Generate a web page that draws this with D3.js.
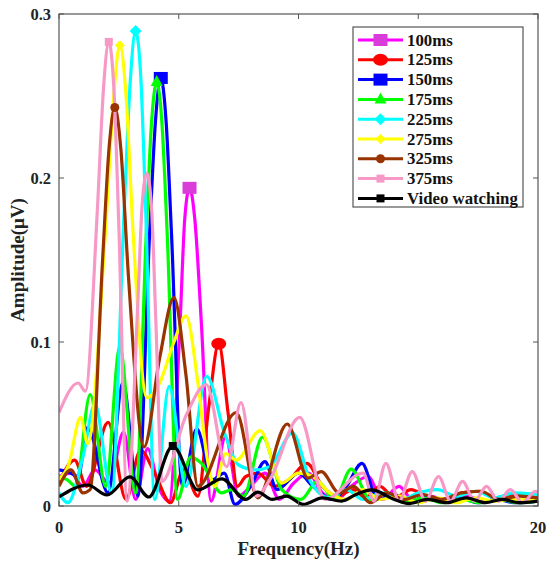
<!DOCTYPE html>
<html>
<head>
<meta charset="utf-8">
<script src="https://cdn.jsdelivr.net/npm/d3@7"></script>
<style>
  html, body { margin: 0; padding: 0; background: #fff; }
  svg { display: block; }
  text { font-family: "Liberation Serif", "Times New Roman", serif; font-weight: bold; }
</style>
</head>
<body>
<svg id="chart" width="547" height="563"></svg>
<script>
// ---------- data ----------
const seriesNames = ["100ms", "125ms", "150ms", "175ms", "225ms", "275ms", "325ms", "375ms", "Video watching"];

const f100 = [0, 0.5, 1.0, 1.5, 2.1, 2.7, 3.2, 3.7, 4.2, 4.6, 5.05, 5.25, 5.45, 5.67, 5.95, 6.35, 6.95, 7.5, 8.0, 8.6, 9.2, 9.8, 10.4, 11.0, 11.6, 12.2, 12.9, 13.5, 14.2, 14.8, 15.5, 16.2, 17.0, 17.8, 18.6, 19.3, 20];
const a100 = [0.018, 0.02, 0.012, 0.022, 0.014, 0.045, 0.004, 0.035, 0.01, 0.003, 0.11, 0.175, 0.194, 0.175, 0.11, 0.003, 0.042, 0.006, 0.012, 0.02, 0.004, 0.014, 0.02, 0.008, 0.004, 0.012, 0.018, 0.004, 0.012, 0.003, 0.006, 0.003, 0.006, 0.003, 0.005, 0.002, 0.006];

const f125 = [0, 0.65, 1.15, 2.05, 2.8, 3.4, 4.0, 4.65, 5.2, 5.8, 6.25, 6.67, 7.05, 7.45, 7.8, 8.3, 9.0, 9.6, 10.35, 11.0, 11.6, 12.3, 12.8, 13.4, 14.0, 14.7, 15.3, 16.0, 16.8, 17.5, 18.2, 19.0, 20];
const a125 = [0.014, 0.028, 0.012, 0.051, 0.004, 0.034, 0.02, 0.002, 0.022, 0.006, 0.06, 0.099, 0.058, 0.012, 0.018, 0.02, 0.012, 0.016, 0.026, 0.012, 0.006, 0.01, 0.005, 0.012, 0.005, 0.01, 0.006, 0.004, 0.008, 0.009, 0.005, 0.007, 0.004];

const f150 = [0, 0.5, 0.8, 1.2, 2.05, 2.67, 3.3, 3.78, 4.03, 4.25, 4.47, 4.7, 5.15, 5.75, 6.4, 6.9, 7.35, 8.0, 8.6, 9.1, 10.0, 10.6, 11.4, 12.0, 12.65, 13.3, 14.0, 14.6, 15.3, 16.0, 16.7, 17.5, 18.3, 19.0, 20];
const a150 = [0.022, 0.02, 0.018, 0.048, 0.008, 0.0756, 0.006, 0.165, 0.235, 0.261, 0.235, 0.165, 0.012, 0.047, 0.016, 0.02, 0.001, 0.012, 0.027, 0.01, 0.02, 0.012, 0.004, 0.012, 0.026, 0.004, 0.007, 0.002, 0.006, 0.003, 0.005, 0.002, 0.004, 0.002, 0.003];

const f175 = [0, 0.35, 0.7, 1.3, 1.95, 2.54, 3.2, 3.64, 3.86, 4.08, 4.3, 4.52, 4.95, 5.5, 5.95, 6.8, 7.2, 7.7, 8.5, 9.3, 10.1, 10.8, 11.5, 12.2, 13.0, 13.7, 14.4, 15.2, 16.0, 16.8, 17.6, 18.4, 19.2, 20];
const a175 = [0.018, 0.016, 0.012, 0.068, 0.012, 0.097, 0.008, 0.165, 0.233, 0.2585, 0.233, 0.165, 0.004, 0.03, 0.026, 0.008, 0.01, 0.006, 0.042, 0.01, 0.004, 0.015, 0.004, 0.0225, 0.004, 0.008, 0.002, 0.005, 0.002, 0.004, 0.002, 0.004, 0.002, 0.003];

const f225 = [0, 0.37, 1.0, 1.5, 2.2, 2.72, 2.98, 3.2, 3.42, 3.62, 4.0, 4.6, 5.3, 6.17, 6.9, 7.5, 8.2, 8.8, 9.75, 10.5, 11.3, 12.0, 12.7, 13.5, 14.3, 15.0, 15.8, 16.6, 17.4, 18.2, 19.0, 20];
const a225 = [0.008, 0.002, 0.03, 0.062, 0.008, 0.18, 0.26, 0.2896, 0.26, 0.18, 0.004, 0.073, 0.012, 0.079, 0.045, 0.025, 0.022, 0.024, 0.0445, 0.015, 0.005, 0.01, 0.004, 0.008, 0.004, 0.008, 0.01, 0.006, 0.009, 0.005, 0.008, 0.007];

const f275 = [0, 0.4, 0.9, 1.2, 1.95, 2.3, 2.54, 2.8, 3.1, 3.67, 4.2, 4.8, 5.3, 5.8, 6.2, 6.5, 6.95, 7.4, 8.4, 9.3, 10.0, 10.6, 11.3, 12.0, 12.7, 13.4, 14.2, 15.0, 15.8, 16.6, 17.4, 18.2, 19.0, 20];
const a275 = [0.016, 0.025, 0.054, 0.038, 0.17, 0.253, 0.281, 0.25, 0.165, 0.066, 0.075, 0.1, 0.116, 0.075, 0.028, 0.012, 0.032, 0.028, 0.046, 0.014, 0.02, 0.018, 0.008, 0.004, 0.01, 0.004, 0.006, 0.002, 0.005, 0.002, 0.005, 0.003, 0.004, 0.003];

const f325 = [0, 0.5, 1.0, 1.3, 1.82, 2.1, 2.33, 2.58, 2.9, 3.55, 4.2, 4.8, 5.3, 5.8, 7.4, 8.3, 9.53, 10.4, 10.95, 11.7, 12.3, 13.0, 13.7, 14.4, 15.2, 16.0, 16.8, 17.6, 18.4, 19.2, 20];
const a325 = [0.012, 0.022, 0.008, 0.01, 0.15, 0.22, 0.243, 0.218, 0.14, 0.036, 0.09, 0.127, 0.08, 0.012, 0.057, 0.005, 0.05, 0.017, 0.021, 0.008, 0.012, 0.002, 0.008, 0.004, 0.007, 0.004, 0.008, 0.009, 0.004, 0.006, 0.005];

const f375 = [0, 0.8, 1.1, 1.6, 1.86, 2.08, 2.3, 2.5, 2.85, 3.28, 3.47, 3.67, 3.87, 4.05, 4.3, 5.3, 6.15, 7.0, 7.6, 8.25, 8.8, 10.05, 11.1, 12.7, 13.15, 13.65, 14.2, 14.75, 15.3, 15.85, 16.35, 16.85, 17.35, 17.85, 18.35, 18.85, 19.35, 19.9, 20];
const a375 = [0.057, 0.075, 0.07, 0.18, 0.255, 0.283, 0.252, 0.17, 0.003, 0.12, 0.183, 0.203, 0.18, 0.11, 0.015, 0.055, 0.074, 0.024, 0.063, 0.006, 0.016, 0.054, 0.004, 0.02, 0.003, 0.026, 0.003, 0.021, 0.003, 0.018, 0.003, 0.015, 0.003, 0.012, 0.003, 0.01, 0.002, 0.009, 0.008];

const fVideo = [0, 1.2, 2.0, 2.96, 3.75, 4.75, 5.8, 6.8, 7.8, 8.3, 8.9, 9.5, 10.2, 11.0, 11.8, 12.4, 13.05, 14.0, 14.6, 15.4, 16.2, 17.0, 17.8, 18.5, 19.2, 20];
const aVideo = [0.0055, 0.0128, 0.0067, 0.0177, 0.0055, 0.0366, 0.0098, 0.0165, 0.004, 0.0085, 0.004, 0.006, 0.001, 0.005, 0.003, 0.007, 0.0098, 0.004, 0.0015, 0.004, 0.002, 0.005, 0.002, 0.004, 0.002, 0.003];

const xTicks = [0, 5, 10, 15, 20];
const yTicks = [0, 0.1, 0.2, 0.3];
const yTickLabels = ["0", "0.1", "0.2", "0.3"];

// ---------- styling ----------
const colors = ["#ff00ff", "#ff0000", "#0000ff", "#00ff00", "#00ffff", "#ffff00", "#993300", "#f799c6", "#000000"];
const markerFill = ["#d93cd9", "#ff0000", "#0000ff", "#00ff00", "#00ffff", "#ffff00", "#993300", "#f799c6", "#000000"];
const markerTypes = ["bigsquare", "ellipse", "bigsquare", "triangle", "diamond", "diamond-s", "circle", "square-s", "square-s"];

const freqs = [f100, f125, f150, f175, f225, f275, f325, f375, fVideo];
const amps = [a100, a125, a150, a175, a225, a275, a325, a375, aVideo];

const series = seriesNames.map((name, i) => ({
  name, color: colors[i], mfill: markerFill[i], marker: markerTypes[i],
  points: freqs[i].map((f, j) => ({ f, a: amps[i][j] }))
}));

// ---------- layout ----------
const svg = d3.select("#chart");
const L = 59, R = 538, T = 14, B = 506;
const x = d3.scaleLinear().domain([0, 20]).range([L, R]);
const y = d3.scaleLinear().domain([0, 0.3]).range([B, T]);

svg.append("defs").append("clipPath").attr("id", "clip")
  .append("rect").attr("x", L).attr("y", T - 8).attr("width", R - L).attr("height", B - T + 8);

const line = d3.line().x(d => x(d.f)).y(d => y(d.a)).curve(d3.curveMonotoneX);

const plot = svg.append("g").attr("clip-path", "url(#clip)");
series.forEach(s => {
  plot.append("path").datum(s.points)
    .attr("fill", "none").attr("stroke", s.color).attr("stroke-width", 3.2)
    .attr("stroke-linejoin", "round").attr("d", line);
});

function drawMarker(g, type, cx, cy, fill) {
  if (type === "bigsquare") {
    g.append("rect").attr("x", cx - 7).attr("y", cy - 6).attr("width", 14).attr("height", 12).attr("fill", fill);
  } else if (type === "ellipse") {
    g.append("ellipse").attr("cx", cx).attr("cy", cy).attr("rx", 7.5).attr("ry", 6).attr("fill", fill);
  } else if (type === "triangle") {
    g.append("path").attr("d", `M${cx},${cy - 7}L${cx + 6},${cy + 4}L${cx - 6},${cy + 4}Z`).attr("fill", fill);
  } else if (type === "diamond") {
    g.append("path").attr("d", `M${cx},${cy - 6}L${cx + 6},${cy}L${cx},${cy + 6}L${cx - 6},${cy}Z`).attr("fill", fill);
  } else if (type === "diamond-s") {
    g.append("path").attr("d", `M${cx},${cy - 5}L${cx + 5},${cy}L${cx},${cy + 5}L${cx - 5},${cy}Z`).attr("fill", fill);
  } else if (type === "circle") {
    g.append("circle").attr("cx", cx).attr("cy", cy).attr("r", 4.5).attr("fill", fill);
  } else if (type === "square-s") {
    g.append("rect").attr("x", cx - 4).attr("y", cy - 4).attr("width", 8).attr("height", 8).attr("fill", fill);
  }
}

// peak markers
const mg = svg.append("g");
series.forEach(s => {
  const pk = s.points.reduce((m, p) => p.a > m.a ? p : m, s.points[0]);
  drawMarker(mg, s.marker, x(pk.f), y(pk.a), s.mfill);
});

// ---------- axes / frame ----------
const axisColor = "#555";
const ax = svg.append("g");
ax.append("rect").attr("x", L).attr("y", T).attr("width", R - L).attr("height", B - T)
  .attr("fill", "none").attr("stroke", axisColor).attr("stroke-width", 1.2);

xTicks.forEach(t => {
  ax.append("line").attr("x1", x(t)).attr("x2", x(t)).attr("y1", B).attr("y2", B - 5).attr("stroke", axisColor);
  ax.append("line").attr("x1", x(t)).attr("x2", x(t)).attr("y1", T).attr("y2", T + 5).attr("stroke", axisColor);
  ax.append("text").attr("x", x(t)).attr("y", B + 27).attr("text-anchor", "middle")
    .attr("font-size", 16.5).attr("fill", "#222").text(t);
});
yTicks.forEach((t, i) => {
  ax.append("line").attr("x1", L).attr("x2", L + 5).attr("y1", y(t)).attr("y2", y(t)).attr("stroke", axisColor);
  ax.append("line").attr("x1", R).attr("x2", R - 5).attr("y1", y(t)).attr("y2", y(t)).attr("stroke", axisColor);
  ax.append("text").attr("x", L - 8).attr("y", y(t) + 5.5).attr("text-anchor", "end")
    .attr("font-size", 16.5).attr("fill", "#222").text(yTickLabels[i]);
});

svg.append("text").attr("x", (L + R) / 2).attr("y", 555).attr("text-anchor", "middle")
  .attr("font-size", 19).attr("fill", "#222").text("Frequency(Hz)");
svg.append("text").attr("transform", `translate(24,${(T + B) / 2}) rotate(-90)`)
  .attr("text-anchor", "middle").attr("font-size", 19).attr("fill", "#222").text("Amplitude(μV)");

// ---------- legend ----------
const lg = svg.append("g");
lg.append("rect").attr("x", 353).attr("y", 27).attr("width", 170).attr("height", 180)
  .attr("fill", "#fff").attr("stroke", axisColor).attr("stroke-width", 1.2);
series.forEach((s, i) => {
  const yy = 40 + i * 19.8;
  lg.append("line").attr("x1", 358).attr("x2", 403).attr("y1", yy).attr("y2", yy)
    .attr("stroke", s.color).attr("stroke-width", 3);
  drawMarker(lg, s.marker, 380.5, yy, s.mfill);
  lg.append("text").attr("x", 407).attr("y", yy + 5.5).attr("font-size", 16.8)
    .attr("fill", "#111").text(s.name);
});
</script>
</body>
</html>
